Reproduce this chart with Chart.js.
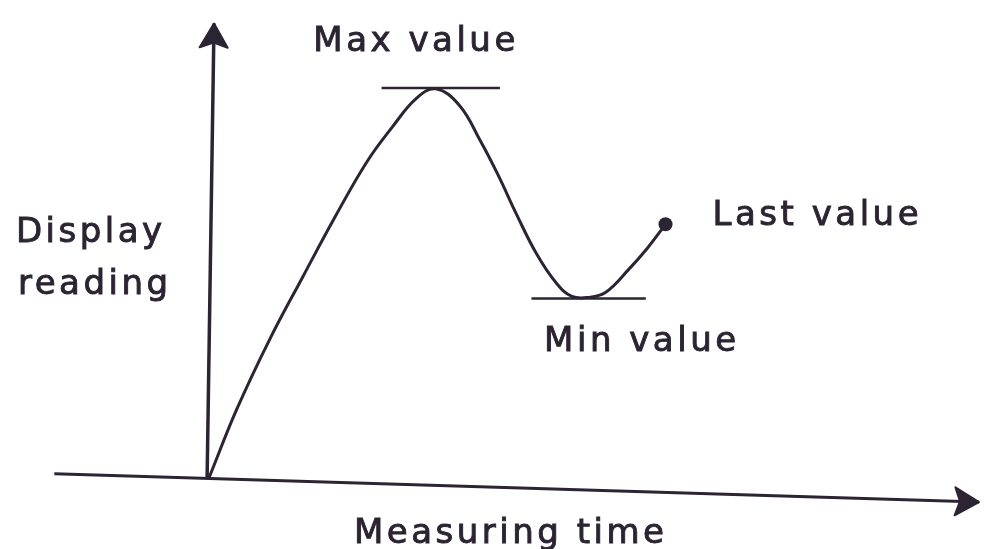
<!DOCTYPE html>
<html>
<head>
<meta charset="utf-8">
<script src="https://cdn.jsdelivr.net/npm/chart.js@4"></script>
<style>
  html, body { margin: 0; background: #fff; }
  #wrap { width: 986px; height: 549px; }
</style>
</head>
<body>
<div id="wrap"><canvas id="chart"></canvas></div>
<script>
// display reading vs measuring time (arbitrary units)
var times = [0, 28, 62, 95, 128, 160, 186, 210, 230, 254, 275, 293, 312, 332, 352, 368, 385, 402, 425, 445, 463];
var readings = [0, 70, 143, 206, 268, 324, 360, 389, 399, 382, 346, 311, 270, 230, 200, 186, 185, 190, 213, 236, 260];

// marker lines for max / min
var maxMark = { from: 175, to: 295, value: 400 };
var minMark = { from: 327, to: 443, value: 184 };

// the hand-drawn axes are slightly tilted
var xAxisPts = [[-157, 4], [781, -25]];
var yAxisPts = [[-2, 0], [5, 466]];

var labels = ["Max value", "Last value", "Min value", "Display", "reading", "Measuring time"];

var ink = "#2c2432";

function pts(arr) {
  return arr.map(function (p) { return { x: p[0], y: p[1] }; });
}

var curve = times.map(function (t, i) { return { x: t, y: readings[i] }; });
var last = curve.length - 1;

// label anchors in data units
var labelPos = [
  [210, 447], [617, 268], [439, 139], [-120, 251], [-116, 198], [306, -58]
];

var decorations = {
  id: "decorations",
  afterDatasetsDraw: function (chart) {
    var ctx = chart.ctx;
    var xs = chart.scales.x, ys = chart.scales.y;
    var px = function (p) { return [xs.getPixelForValue(p[0]), ys.getPixelForValue(p[1])]; };

    function arrow(from, to) {
      var a = px(from), b = px(to);
      var ang = Math.atan2(b[1] - a[1], b[0] - a[0]);
      var len = 24, half = 14;
      ctx.save();
      ctx.translate(b[0], b[1]);
      ctx.rotate(ang);
      ctx.beginPath();
      ctx.moveTo(0, 0);
      ctx.lineTo(-len, -half);
      ctx.lineTo(-len + 5, 0);
      ctx.lineTo(-len, half);
      ctx.closePath();
      ctx.fillStyle = ink;
      ctx.fill();
      ctx.lineJoin = "round";
      ctx.lineWidth = 2;
      ctx.strokeStyle = ink;
      ctx.stroke();
      ctx.restore();
    }
    arrow(xAxisPts[0], xAxisPts[1]);
    arrow(yAxisPts[0], yAxisPts[1]);

    ctx.save();
    ctx.fillStyle = ink;
    ctx.strokeStyle = ink;
    ctx.lineWidth = 0.9;
    ctx.font = "34px 'DejaVu Sans'";
    ctx.letterSpacing = "3.5px";
    ctx.textAlign = "center";
    ctx.textBaseline = "middle";
    labels.forEach(function (txt, i) {
      var p = px(labelPos[i]);
      ctx.fillText(txt, p[0], p[1]);
      ctx.strokeText(txt, p[0], p[1]);
    });
    ctx.restore();
  }
};

var lineStyle = {
  borderColor: ink,
  pointRadius: 0,
  fill: false,
  tension: 0
};

new Chart(document.getElementById("chart"), {
  type: "line",
  data: {
    datasets: [
      Object.assign({ label: "x axis", data: pts(xAxisPts), borderWidth: 3 }, lineStyle),
      Object.assign({ label: "y axis", data: pts(yAxisPts), borderWidth: 3.5 }, lineStyle),
      Object.assign({ label: "max", data: [{ x: maxMark.from, y: maxMark.value }, { x: maxMark.to, y: maxMark.value }], borderWidth: 2.5 }, lineStyle),
      Object.assign({ label: "min", data: [{ x: minMark.from, y: minMark.value }, { x: minMark.to, y: minMark.value }], borderWidth: 2.5 }, lineStyle),
      {
        label: "Display reading",
        data: curve,
        borderColor: ink,
        backgroundColor: ink,
        borderWidth: 3,
        tension: 0.4,
        pointRadius: function (c) { return c.dataIndex === last ? 7 : 0; },
        pointBorderWidth: 0,
        fill: false
      }
    ]
  },
  options: {
    responsive: true,
    maintainAspectRatio: false,
    animation: false,
    layout: { padding: 0 },
    plugins: { legend: { display: false }, tooltip: { enabled: false } },
    scales: {
      x: { type: "linear", min: -205, max: 781, display: false },
      y: { type: "linear", min: -66, max: 483, display: false }
    }
  },
  plugins: [decorations]
});
</script>
</body>
</html>
